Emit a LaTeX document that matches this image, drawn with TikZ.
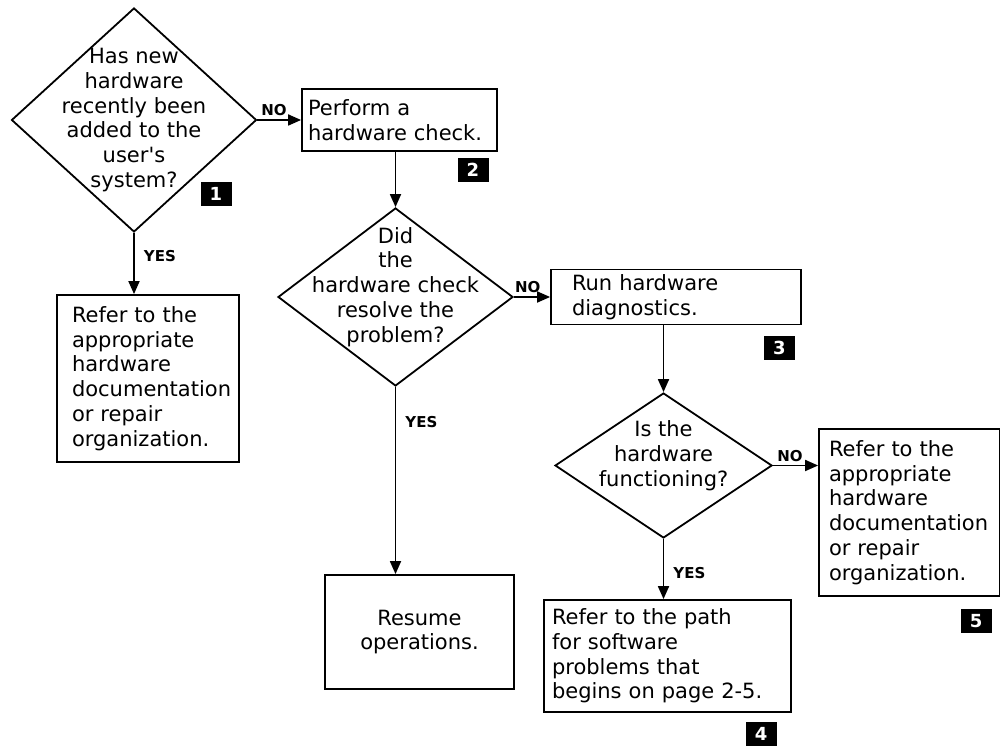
\documentclass[tikz,border=0pt]{standalone}
\usepackage{fontspec}
\setmainfont{DejaVu Sans}
\usetikzlibrary{arrows.meta, shapes.geometric}

\begin{document}
\begin{tikzpicture}[
                    x=0.5pt, y=-0.5pt,
                    font=\fontsize{10.5pt}{12.4pt}\selectfont,
                    decision/.style={diamond, draw, line width=0.9pt, inner sep=0pt},
                    qtext/.style={align=center, inner sep=0pt},
                    stepbox/.style={rectangle, draw, line width=0.9pt, align=left, inner ysep=0pt},
                    tag/.style={fill=black, text=white, font=\fontsize{9pt}{9pt}\selectfont\bfseries, minimum width=15.5pt, minimum height=12pt, inner sep=0pt},
                    answer/.style={font=\fontsize{7.5pt}{7.5pt}\selectfont\bfseries, inner sep=1.5pt},
                    line/.style={draw, line width=0.9pt, -{Triangle[length=6.5pt, width=5.5pt]}}
                ]
                    \useasboundingbox (0,0) rectangle (1000,747);

                    % Place nodes
                    \node [decision, minimum width=122.5pt, minimum height=112pt] (added) at (134,120) {};
                    \node [qtext] (addedq) at (added.center) {Has new\\hardware\\recently been\\added to the\\user\textquotesingle s\\system?};
                    \node [stepbox, minimum height=31pt, text width=91.5pt, inner xsep=3pt] (check) at (399.5,120) {Perform a\\hardware check.};
                    \node [decision, minimum width=117.5pt, minimum height=89pt] (resolved) at (395.5,297) {};
                    \node [qtext] (resolvedq) at ([yshift=5pt]resolved.center) {Did\\the\\hardware check\\resolve the\\problem?};
                    \node [stepbox, minimum height=27.5pt, text width=104pt, inner xsep=10.5pt] (run) at (676,297) {Run hardware\\diagnostics.};
                    \node [decision, minimum width=108.5pt, minimum height=72.5pt] (working) at (663.5,465.5) {};
                    \node [qtext] (workingq) at ([yshift=5pt]working.center) {Is the\\hardware\\functioning?};
                    \node [stepbox, minimum height=83.5pt, text width=76pt, inner xsep=7.5pt] (repaira) at (148,378.5) {Refer to the\\appropriate\\hardware\\documentation\\or repair\\organization.};
                    \node [stepbox, minimum height=57pt, text width=80pt, inner xsep=7.25pt, align=center] (resume) at (419.5,632) {Resume\\operations.};
                    \node [stepbox, minimum height=56pt, text width=115.5pt, inner xsep=4pt] (software) at (667.5,656) {Refer to the path\\for software\\problems that\\begins on page 2-5.};
                    \node [stepbox, minimum height=83.5pt, text width=80.5pt, inner xsep=5pt] (repairb) at (909.5,512.5) {Refer to the\\appropriate\\hardware\\documentation\\or repair\\organization.};

                    % Step numbers
                    \node [tag] (n1) at (216,194) {1};
                    \node [tag] (n2) at (473,170) {2};
                    \node [tag] (n3) at (779.5,348) {3};
                    \node [tag] (n4) at (761,734) {4};
                    \node [tag] (n5) at (976,621) {5};

                    % Draw edges
                    \path [line] (added.east) -- node[answer, above, pos=0.38] {NO} (check.west);
                    \path [line] (added.south) -- node[answer, right, pos=0.38, xshift=3pt] {YES} (added.south |- repaira.north);
                    \path [line] (resolved.north |- check.south) -- (resolved.north);
                    \path [line] (resolved.east) -- node[answer, above, pos=0.38] {NO} (resolved.east -| run.west);
                    \path [line] (resolved.south) -- node[answer, right, pos=0.19, xshift=3pt] {YES} (resolved.south |- resume.north);
                    \path [line] (working.north |- run.south) -- (working.north);
                    \path [line] (working.east) -- node[answer, above, pos=0.38] {NO} (working.east -| repairb.west);
                    \path [line] (working.south) -- node[answer, right, pos=0.56, xshift=3pt] {YES} (working.south |- software.north);
            \end{tikzpicture}
\end{document}
